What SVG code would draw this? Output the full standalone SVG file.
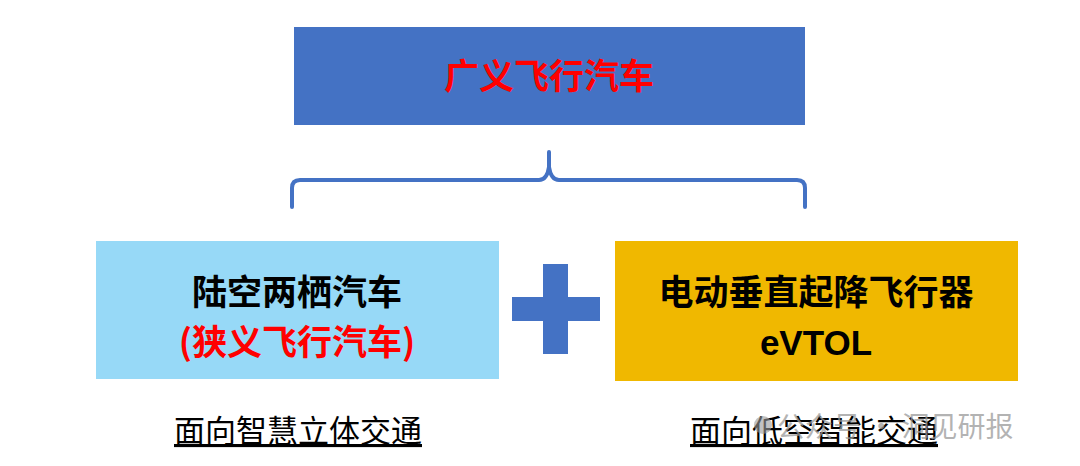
<svg xmlns="http://www.w3.org/2000/svg" width="1080" height="466" viewBox="0 0 1080 466">
<style>
.cn{font-family:"Noto Sans CJK SC","Liberation Sans",sans-serif;text-anchor:middle}
.b{font-weight:bold;font-size:35px}
.red{fill:#FF0000}
.blk{fill:#000000}
.lab{font-size:31px;fill:#000;text-decoration:underline}
.wm{font-size:28px;fill:#9a9a9a;fill-opacity:0.75}
.brace{fill:none;stroke:#4472C4;stroke-width:4;stroke-linecap:round;stroke-linejoin:round}
</style>
<rect width="1080" height="466" fill="#FFFFFF"/>
<g id="top">
<rect x="294" y="27" width="511" height="98" fill="#4472C4"/>
<text class="cn b red" x="549" y="89">广义飞行汽车</text>
</g>
<g id="connectors">
<path class="brace" d="M292,207 L292,188 Q292,180 300,180 L539,180 Q547,180 549,167 L549,152 M549,167 Q551,180 559,180 L797,180 Q805,180 805,188 L805,207"/>
</g>
<g id="left">
<rect x="96" y="241" width="403" height="138" fill="#97D9F7"/>
<text class="cn b blk" x="297" y="305">陆空两栖汽车</text>
<text class="cn b red" x="297" y="355">(狭义飞行汽车)</text>
</g>
<g id="plus">
<rect x="543" y="264" width="25" height="90" fill="#4472C4"/>
<rect x="512" y="297" width="88" height="24" fill="#4472C4"/>
</g>
<g id="right">
<rect x="615" y="241" width="403" height="140" fill="#F0B800"/>
<text class="cn b blk" x="816" y="305">电动垂直起降飞行器</text>
<text class="b blk" x="816" y="355" style="font-family:'Liberation Sans',Arial,sans-serif;text-anchor:middle;font-size:35px">eVTOL</text>
</g>
<g id="label-left">
<text class="cn lab" x="298" y="442">面向智慧立体交通</text>
</g>
<g id="label-right">
<text class="cn lab" x="814" y="442">面向低空智能交通</text>
</g>
<g id="watermark">
<circle cx="763" cy="425" r="9" fill="#9a9a9a" fill-opacity="0.6"/>
<text class="cn wm" x="777" y="437" style="text-anchor:start">公众号 · 洞见研报</text>
</g>
</svg>
